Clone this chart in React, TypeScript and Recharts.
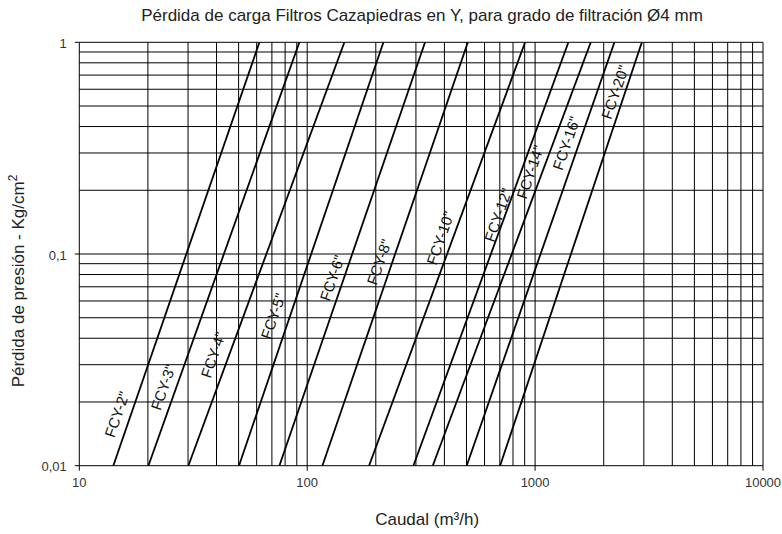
import React from "react";
import { LineChart, Line, XAxis, YAxis, CartesianGrid, ReferenceDot, Label } from "recharts";

const FONT = "'Liberation Sans', Arial, Helvetica, sans-serif";

// filter sizes and the flow (m3/h) at which each line crosses 0.01 and 1 Kg/cm2
const filtros = ['FCY-2"', 'FCY-3"', 'FCY-4"', 'FCY-5"', 'FCY-6"', 'FCY-8"', 'FCY-10"', 'FCY-12"', 'FCY-14"', 'FCY-16"', 'FCY-20"'];
const caudalBajo = [14.1, 20.1, 30.1, 50.2, 75.5, 116.6, 186.8, 292.4, 355.6, 501, 702];
const caudalAlto = [61.7, 92.4, 145.6, 216, 329, 507, 904, 1400, 1755, 2229, 2941];
const perdidaBaja = 0.01;
const perdidaAlta = 1;

// where the name of each filter sits (data units)
const etiquetaCaudal = [14.6, 23.3, 38.6, 70.8, 128.5, 206.7, 383, 687, 950, 1368, 2239];
const etiquetaPerdida = [0.0175, 0.0235, 0.0334, 0.0509, 0.0771, 0.0917, 0.119, 0.153, 0.244, 0.334, 0.582];

const caudalTicks = [
  10, 20, 30, 40, 50, 60, 70, 80, 90,
  100, 200, 300, 400, 500, 600, 700, 800, 900,
  1000, 2000, 3000, 4000, 5000, 6000, 7000, 8000, 9000, 10000,
];
const perdidaTicks = [
  0.01, 0.02, 0.03, 0.04, 0.05, 0.06, 0.07, 0.08, 0.09,
  0.1, 0.2, 0.3, 0.4, 0.5, 0.6, 0.7, 0.8, 0.9, 1,
];
const caudalLabels = [10, 100, 1000, 10000];
const perdidaLabels = [0.01, 0.1, 1];

const series = filtros.map((name, i) => ({
  name,
  data: [
    { q: caudalBajo[i], p: perdidaBaja },
    { q: caudalAlto[i], p: perdidaAlta },
  ],
}));

function CaudalTick({ x, y, payload }: any) {
  if (!caudalLabels.includes(payload.value)) return <g />;
  return (
    <g>
      <line x1={x} x2={x} y1={y} y2={y + 5} stroke="#000" />
      <text x={x} y={y + 21.5} textAnchor="middle" fontSize={13} fill="#333" fontFamily={FONT}>
        {payload.value}
      </text>
    </g>
  );
}

function PerdidaTick({ x, y, payload }: any) {
  if (!perdidaLabels.includes(payload.value)) return <g />;
  return (
    <g>
      <line x1={x - 4.5} x2={x} y1={y} y2={y} stroke="#000" />
      <text x={x - 12.5} y={y + 5.5} textAnchor="end" fontSize={13} fill="#333" fontFamily={FONT}>
        {String(payload.value).replace(".", ",")}
      </text>
    </g>
  );
}

function curveLabel(text: string) {
  return ({ cx, cy }: any) => (
    <text
      x={cx}
      y={cy}
      transform={`rotate(-71 ${cx} ${cy})`}
      textAnchor="middle"
      dominantBaseline="central"
      fontSize={15}
      fill="#111"
      fontFamily={FONT}
    >
      {text}
    </text>
  );
}

export default function App() {
  return (
    <div style={{ position: "absolute", left: 0, top: 0, width: 782, height: 534, background: "#fff", fontFamily: FONT }}>
      <div
        style={{
          position: "absolute",
          left: 0,
          top: 6,
          width: 844,
          textAlign: "center",
          fontSize: 17,
          lineHeight: "20px",
          color: "#222",
          whiteSpace: "nowrap",
        }}
      >
        Pérdida de carga Filtros Cazapiedras en Y, para grado de filtración Ø4 mm
      </div>
      <LineChart width={782} height={534} margin={{ top: 42.3, right: 19, bottom: 38.3, left: 49.3 }}>
        <CartesianGrid stroke="#000" strokeWidth={1} />
        <XAxis
          dataKey="q"
          type="number"
          scale="log"
          domain={[10, 10000]}
          allowDataOverflow
          ticks={caudalTicks}
          interval={0}
          height={30}
          tickSize={0}
          tickMargin={0}
          axisLine={false}
          tickLine={false}
          tick={<CaudalTick />}
        >
          <Label
            content={({ viewBox }: any) => (
              <text
                x={viewBox.x + viewBox.width / 2 + 6}
                y={viewBox.y + 59.5}
                textAnchor="middle"
                fontSize={17}
                fill="#222"
                fontFamily={FONT}
              >
                Caudal (m³/h)
              </text>
            )}
          />
        </XAxis>
        <YAxis
          dataKey="p"
          type="number"
          scale="log"
          domain={[0.01, 1]}
          allowDataOverflow
          ticks={perdidaTicks}
          interval={0}
          width={30}
          tickSize={0}
          tickMargin={0}
          axisLine={false}
          tickLine={false}
          tick={<PerdidaTick />}
        >
          <Label
            content={({ viewBox }: any) => {
              const cx = viewBox.x - 25.5;
              const cy = viewBox.y + viewBox.height / 2 + 27;
              return (
                <text
                  x={cx}
                  y={cy}
                  transform={`rotate(-90 ${cx} ${cy})`}
                  textAnchor="middle"
                  fontSize={17}
                  fill="#222"
                  fontFamily={FONT}
                >
                  Pérdida de presión - Kg/cm
                  <tspan fontSize={12} dy={-7}>2</tspan>
                </text>
              );
            }}
          />
        </YAxis>
        {series.map((s) => (
          <Line
            key={s.name}
            data={s.data}
            dataKey="p"
            name={s.name}
            type="linear"
            stroke="#000"
            strokeWidth={1.8}
            dot={false}
            activeDot={false}
            isAnimationActive={false}
          />
        ))}
        {filtros.map((name, i) => (
          <ReferenceDot
            key={"lbl" + name}
            x={etiquetaCaudal[i]}
            y={etiquetaPerdida[i]}
            r={0}
            shape={curveLabel(name)}
          />
        ))}
      </LineChart>
    </div>
  );
}
